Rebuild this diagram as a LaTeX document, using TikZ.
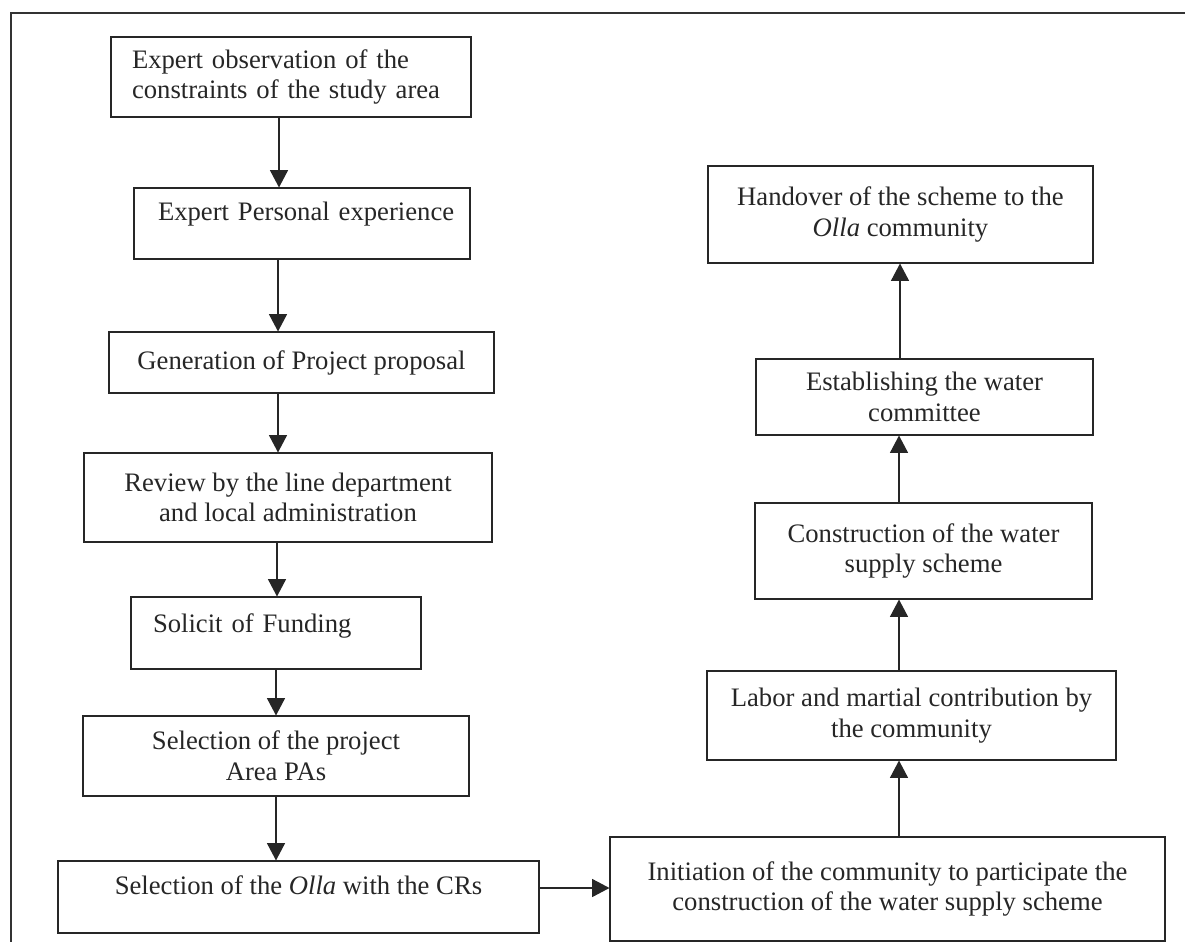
\documentclass[tikz,border=0pt]{standalone}
\usepackage{fontspec}
\setmainfont{Liberation Serif}
\usetikzlibrary{arrows.meta}
\begin{document}
\begin{tikzpicture}[x=0.75pt,y=-0.75pt,
  box/.style={draw=black!85, line width=0.8pt, rectangle, inner sep=0pt, align=center,
    text=black!85, font=\fontsize{20}{23}\selectfont},
  lbox/.style={box, align=left},
  arr/.style={draw=black!85, line width=0.9pt, -{Triangle[width=13.5pt,length=13pt]}},
  frameline/.style={draw=black!80, line width=0.9pt}]
\useasboundingbox (0,0) rectangle (1185,942);
\draw[frameline] (11,942) -- (11,13) -- (1185,13);

% left column
\node[lbox, text width=270pt, minimum height=60pt] (A) at (291,77)
  {\hspace*{15.75pt}Expert observation of the\\\hspace*{15.75pt}constraints of the study area};
\node[lbox, text width=252pt, minimum height=53.25pt, text height=13.8pt, text depth=19pt] (B) at (302,223.5)
  {\hspace*{18pt}Expert Personal experience};
\node[box, minimum width=288.75pt, minimum height=45.75pt] (C) at (301.5,362.5)
  {Generation of Project proposal};
\node[box, minimum width=306pt, minimum height=66.75pt] (D) at (288,497.5)
  {Review by the line department\\and local administration};
\node[lbox, text width=217.5pt, minimum height=54pt, text height=13.8pt, text depth=15.3pt] (E) at (276,633)
  {\hspace*{16.5pt}Solicit of Funding};
\node[box, minimum width=289.5pt, minimum height=60pt] (F) at (276,756)
  {Selection of the project\\Area PAs};
\node[box, minimum width=360.75pt, minimum height=54pt, text height=13.8pt, text depth=18.3pt] (G) at (298.5,897)
  {Selection of the \textit{Olla} with the CRs};

% right column
\node[box, minimum width=416.25pt, minimum height=78pt] (H) at (887.5,889)
  {Initiation of the community to participate the\\construction of the water supply scheme};
\node[box, minimum width=306.75pt, minimum height=66.75pt] (I) at (911.5,715.5)
  {Labor and martial contribution by\\the community};
\node[box, minimum width=252.75pt, minimum height=72pt] (J) at (923.5,551)
  {Construction of the water\\supply scheme};
\node[box, minimum width=252.75pt, minimum height=57pt] (K) at (924.5,397)
  {Establishing the water\\committee};
\node[box, minimum width=288.75pt, minimum height=72.75pt] (L) at (900.5,214.5)
  {Handover of the scheme to the\\\textit{Olla} community};

% connector guide coordinates
\coordinate (c1) at (279,0);
\coordinate (c2) at (278,0);
\coordinate (c4) at (277,0);
\coordinate (c5) at (276,0);
\coordinate (r1) at (899,0);
\coordinate (r4) at (900,0);
\coordinate (m) at (0,888);

\draw[arr] (A.south -| c1) -- (B.north -| c1);
\draw[arr] (B.south -| c2) -- (C.north -| c2);
\draw[arr] (C.south -| c2) -- (D.north -| c2);
\draw[arr] (D.south -| c4) -- (E.north -| c4);
\draw[arr] (E.south -| c5) -- (F.north -| c5);
\draw[arr] (F.south -| c5) -- (G.north -| c5);
\draw[arr] (G.east |- m) -- (H.west |- m);
\draw[arr] (H.north -| r1) -- (I.south -| r1);
\draw[arr] (I.north -| r1) -- (J.south -| r1);
\draw[arr] (J.north -| r1) -- (K.south -| r1);
\draw[arr] (K.north -| r4) -- (L.south -| r4);
\end{tikzpicture}
\end{document}
